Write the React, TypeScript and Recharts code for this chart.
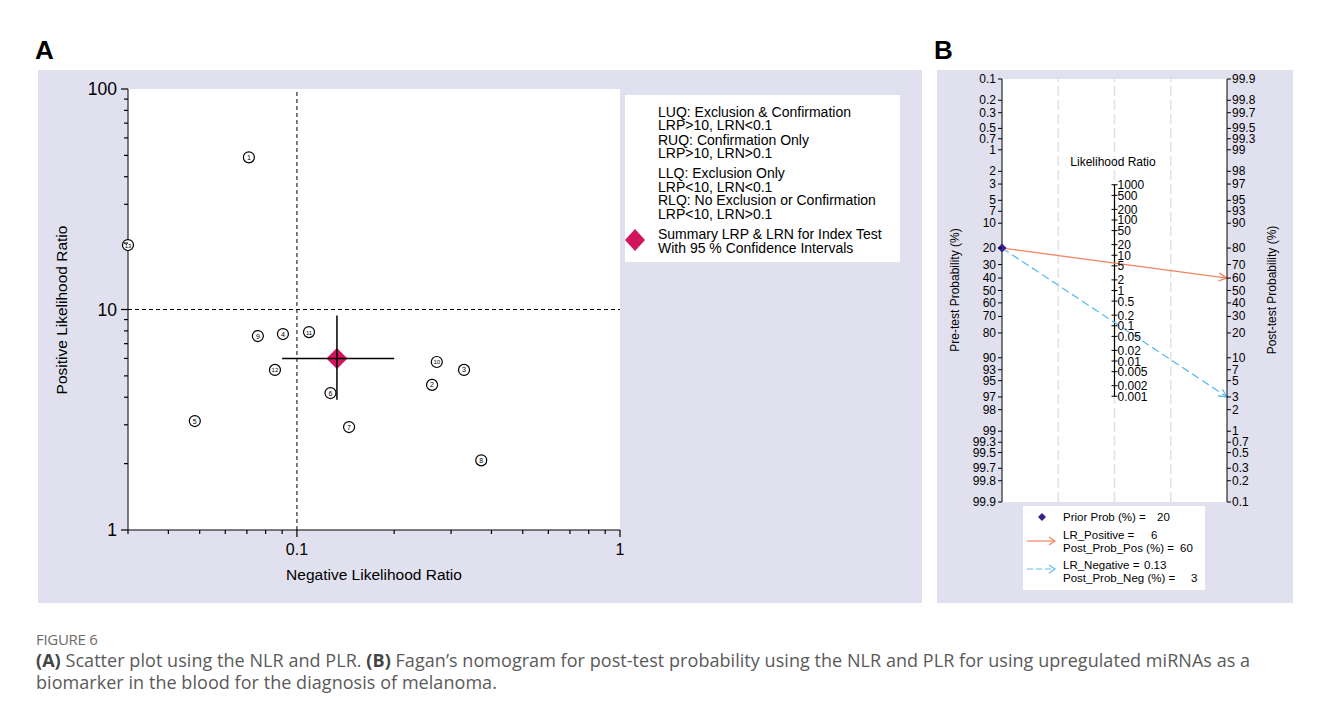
import React from "react";
import { CartesianGrid, ReferenceLine, Scatter, ScatterChart, XAxis, YAxis } from "recharts";

const LAVENDER = "#e0e0ee";
const FONT = '"Liberation Sans", Arial, Helvetica, sans-serif';
const CAPTION_FONT = '"Open Sans", "Noto Sans", sans-serif';

// Panel A: study-level negative / positive likelihood ratios
const studyIds = [1, 2, 3, 4, 5, 6, 7, 8, 9, 10, 11, 12, 13];
const studyNlr = [0.071, 0.262, 0.329, 0.0905, 0.0483, 0.127, 0.145, 0.372, 0.0757, 0.271, 0.109, 0.0855, 0.03];
const studyPlr = [49, 4.55, 5.32, 7.74, 3.12, 4.18, 2.93, 2.07, 7.58, 5.78, 7.9, 5.32, 19.6];

const summaryNlr = 0.133;
const summaryPlr = 6;
const summaryNlrCi = [0.09, 0.2];
const summaryPlrCi = [3.9, 9.4];

const nlrTicks = [0.03, 0.04, 0.05, 0.06, 0.07, 0.08, 0.09, 0.1, 0.2, 0.3, 0.4, 0.5, 0.6, 0.7, 0.8, 0.9, 1];
const nlrTickLabels = [0.1, 1];
const plrTicks = [1, 2, 3, 4, 5, 6, 7, 8, 9, 10, 20, 30, 40, 50, 60, 70, 80, 90, 100];
const plrTickLabels = [1, 10, 100];

const legendA = [
  ["LUQ: Exclusion & Confirmation", "LRP>10, LRN<0.1", "RUQ: Confirmation Only", "LRP>10, LRN>0.1"],
  ["LLQ: Exclusion Only", "LRP<10, LRN<0.1", "RLQ: No Exclusion or Confirmation", "LRP<10, LRN>0.1"],
];

// Panel B: Fagan nomogram
const priorProb = 20;
const lrPositive = 6;
const lrNegative = 0.13;
const postProbPos = 60;
const postProbNeg = 3;
const preTicks = [0.1, 0.2, 0.3, 0.5, 0.7, 1, 2, 3, 5, 7, 10, 20, 30, 40, 50, 60, 70, 80, 90, 93, 95, 97, 98, 99, 99.3, 99.5, 99.7, 99.8, 99.9];
const postTicks = [99.9, 99.8, 99.7, 99.5, 99.3, 99, 98, 97, 95, 93, 90, 80, 70, 60, 50, 40, 30, 20, 10, 7, 5, 3, 2, 1, 0.7, 0.5, 0.3, 0.2, 0.1];
const lrTicks = [1000, 500, 200, 100, 50, 20, 10, 5, 2, 1, 0.5, 0.2, 0.1, 0.05, 0.02, 0.01, 0.005, 0.002, 0.001];

const logit = (p: number) => Math.log(p / (100 - p));
const LIM = -logit(0.1);
const fmt = (v: number) => String(Number(v.toPrecision(3)));

const studies = studyIds.map((id, i) => ({ id, nlr: studyNlr[i], plr: studyPlr[i] }));
const summary = [{ nlr: summaryNlr, plr: summaryPlr }];

const lrAxisPoints = lrTicks.map((lr) => ({ x: 0.5, u: Math.log(lr) / 2, lr }));
const priorPoint = [{ x: 0, u: -logit(priorProb) }];

function XTickA({ x, y, payload }: any) {
  const major = nlrTickLabels.includes(payload.value);
  return (
    <g>
      <line x1={x} x2={x} y1={y} y2={y + (major ? 7 : 4)} stroke="#000" strokeWidth={1.2} />
      {major && (
        <text x={x} y={y + 25} textAnchor="middle" fontSize={16} fontFamily={FONT} fill="#000">
          {payload.value}
        </text>
      )}
    </g>
  );
}

function YTickA({ x, y, payload }: any) {
  const major = plrTickLabels.includes(payload.value);
  return (
    <g>
      <line x1={x - (major ? 7 : 4)} x2={x} y1={y} y2={y} stroke="#000" strokeWidth={1.2} />
      {major && (
        <text x={x - 11} y={y + 6} textAnchor="end" fontSize={17.5} fontFamily={FONT} fill="#000">
          {payload.value}
        </text>
      )}
    </g>
  );
}

function PreTick({ x, y, payload }: any) {
  return (
    <g>
      <line x1={x - 4} x2={x} y1={y} y2={y} stroke="#000" />
      <text x={x - 6} y={y + 4} textAnchor="end" fontSize={12} fontFamily={FONT} fill="#000">
        {fmt(100 / (1 + Math.exp(payload.value)))}
      </text>
    </g>
  );
}

function PostTick({ x, y, payload }: any) {
  return (
    <g>
      <line x1={x} x2={x + 4} y1={y} y2={y} stroke="#000" />
      <text x={x + 5} y={y + 4} textAnchor="start" fontSize={12} fontFamily={FONT} fill="#000">
        {fmt(100 / (1 + Math.exp(-payload.value)))}
      </text>
    </g>
  );
}

const StudyDot = ({ cx, cy, payload }: any) => (
  <g>
    <circle cx={cx} cy={cy} r={5.5} fill="#fff" stroke="#000" strokeWidth={1.2} />
    <text x={cx} y={cy + 2.5} textAnchor="middle" fontSize={payload.id > 9 ? 6 : 7} fontFamily={FONT} fill="#000">
      {payload.id}
    </text>
  </g>
);

const SummaryDiamond = ({ cx, cy }: any) => (
  <polygon points={`${cx},${cy - 10.5} ${cx + 10.5},${cy} ${cx},${cy + 10.5} ${cx - 10.5},${cy}`} fill="#d3135b" />
);

const PriorDiamond = ({ cx, cy }: any) => (
  <polygon points={`${cx},${cy - 4.5} ${cx + 4.5},${cy} ${cx},${cy + 4.5} ${cx - 4.5},${cy}`} fill="#3b1f8f" />
);

const LrTick = ({ cx, cy, payload }: any) => (
  <g>
    <line x1={cx - 3} x2={cx + 3} y1={cy} y2={cy} stroke="#000" />
    <text x={cx + 3} y={cy + 4.5} fontSize={12} fontFamily={FONT} fill="#000">
      {payload.lr}
    </text>
  </g>
);

const arrowShape = (color: string, dash?: string) => (props: any) => {
  const { x1, y1, x2, y2 } = props;
  const a = Math.atan2(y2 - y1, x2 - x1);
  const l = 9;
  const s = 0.45;
  const pts = `${x2 - l * Math.cos(a - s)},${y2 - l * Math.sin(a - s)} ${x2},${y2} ${x2 - l * Math.cos(a + s)},${y2 - l * Math.sin(a + s)}`;
  return (
    <g>
      <line x1={x1} y1={y1} x2={x2} y2={y2} stroke={color} strokeWidth={1.3} strokeDasharray={dash} />
      <polyline points={pts} fill="none" stroke={color} strokeWidth={1.3} />
    </g>
  );
};

const rot = (left: number, top: number, text: string, size: number) => (
  <div
    style={{
      position: "absolute",
      left,
      top,
      transform: "translate(-50%, -50%) rotate(-90deg)",
      whiteSpace: "nowrap",
      fontSize: size,
      fontFamily: FONT,
      color: "#000",
    }}
  >
    {text}
  </div>
);

function PanelA() {
  const lineTops = [17, 30, 45, 58, 78, 92, 105, 119];
  const lines = [...legendA[0], ...legendA[1]];
  return (
    <div style={{ position: "absolute", left: 30, top: 62, width: 884, height: 533, background: LAVENDER }}>
      <ScatterChart width={884} height={533} margin={{ top: 19, right: 302, bottom: 0, left: 0 }}>
        <CartesianGrid fill="#fff" horizontal={false} vertical={false} />
        <XAxis
          type="number"
          dataKey="nlr"
          scale="log"
          domain={[0.03, 1]}
          ticks={nlrTicks}
          interval={0}
          tickSize={0}
          tickMargin={0}
          tickLine={false}
          height={73}
          stroke="#000"
          tick={(p: any) => <XTickA {...p} />}
        />
        <YAxis
          type="number"
          dataKey="plr"
          scale="log"
          domain={[1, 100]}
          ticks={plrTicks}
          interval={0}
          tickSize={0}
          tickMargin={0}
          tickLine={false}
          width={90}
          stroke="#000"
          tick={(p: any) => <YTickA {...p} />}
        />
        <ReferenceLine x={0.1} stroke="#000" strokeDasharray="4 3" />
        <ReferenceLine y={10} stroke="#000" strokeDasharray="4 3" />
        <Scatter data={studies} shape={StudyDot} isAnimationActive={false} />
        <Scatter data={summary} shape={SummaryDiamond} isAnimationActive={false} />
        <ReferenceLine
          segment={[{ x: summaryNlrCi[0], y: summaryPlr }, { x: summaryNlrCi[1], y: summaryPlr }]}
          stroke="#000"
          strokeWidth={1.5}
          zIndex={700}
        />
        <ReferenceLine
          segment={[{ x: summaryNlr, y: summaryPlrCi[0] }, { x: summaryNlr, y: summaryPlrCi[1] }]}
          stroke="#000"
          strokeWidth={1.5}
          zIndex={700}
        />
      </ScatterChart>
      {rot(24, 240, "Positive Likelihood Ratio", 15.5)}
      <div
        style={{
          position: "absolute",
          left: 336,
          top: 505,
          transform: "translate(-50%, -50%)",
          whiteSpace: "nowrap",
          fontSize: 15.5,
          fontFamily: FONT,
        }}
      >
        Negative Likelihood Ratio
      </div>
      <div style={{ position: "absolute", left: 587, top: 25, width: 275, height: 167, background: "#fff" }}>
        {lines.map((t, i) => (
          <div
            key={i}
            style={{ position: "absolute", left: 33, top: lineTops[i] - 7, lineHeight: "14px", fontSize: 14, fontFamily: FONT, whiteSpace: "nowrap" }}
          >
            {t}
          </div>
        ))}
        <svg style={{ position: "absolute", left: 0, top: 134 }} width={20} height={22}>
          <polygon points="10,0 20,11 10,22 0,11" fill="#d3135b" />
        </svg>
        <div style={{ position: "absolute", left: 33, top: 132, lineHeight: "14px", fontSize: 14, fontFamily: FONT, whiteSpace: "nowrap" }}>
          Summary LRP &amp; LRN for Index Test
          <br />
          With 95 % Confidence Intervals
        </div>
      </div>
    </div>
  );
}

function PanelB() {
  const txt = { fontSize: 11.5, fontFamily: FONT, fill: "#000" } as const;
  return (
    <div style={{ position: "absolute", left: 929, top: 62, width: 356, height: 533, background: LAVENDER }}>
      <ScatterChart width={356} height={533} margin={{ top: 9, right: 0, bottom: 101, left: 0 }}>
        <CartesianGrid fill="#fff" horizontal={false} vertical={false} />
        <XAxis type="number" dataKey="x" domain={[0, 1]} hide />
        <YAxis
          type="number"
          dataKey="u"
          domain={[-LIM, LIM]}
          ticks={preTicks.map((p) => -logit(p))}
          interval={0}
          tickSize={0}
          tickMargin={0}
          tickLine={false}
          width={65}
          stroke="#000"
          tick={(p: any) => <PreTick {...p} />}
        />
        <YAxis
          yAxisId="post"
          orientation="right"
          type="number"
          dataKey="u"
          domain={[-LIM, LIM]}
          ticks={postTicks.map((p) => logit(p))}
          interval={0}
          tickSize={0}
          tickMargin={0}
          tickLine={false}
          width={66}
          stroke="#000"
          tick={(p: any) => <PostTick {...p} />}
        />
        {[0.25, 0.5, 0.75].map((g) => (
          <ReferenceLine key={g} x={g} stroke="#e2e2e2" strokeWidth={1.5} strokeDasharray="10 4" />
        ))}
        <ReferenceLine
          segment={[{ x: 0.5, y: Math.log(lrTicks[0]) / 2 }, { x: 0.5, y: Math.log(lrTicks[lrTicks.length - 1]) / 2 }]}
          stroke="#000"
          strokeWidth={1.2}
        />
        <Scatter yAxisId="post" data={lrAxisPoints} shape={LrTick} isAnimationActive={false} />
        <ReferenceLine
          segment={[{ x: 0, y: -logit(priorProb) }, { x: 1, y: logit(postProbPos) }]}
          ifOverflow="visible"
          shape={arrowShape("#f28462")}
        />
        <ReferenceLine
          segment={[{ x: 0, y: -logit(priorProb) }, { x: 1, y: logit(postProbNeg) }]}
          ifOverflow="visible"
          shape={arrowShape("#5cbdf0", "8 4")}
        />
        <Scatter data={priorPoint} shape={PriorDiamond} isAnimationActive={false} />
      </ScatterChart>
      {rot(18, 220, "Pre-test Probability (%)", 12)}
      {rot(335, 220, "Post-test Probability (%)", 12)}
      <div
        style={{
          position: "absolute",
          left: 176,
          top: 92,
          transform: "translate(-50%, -50%)",
          whiteSpace: "nowrap",
          fontSize: 12,
          fontFamily: FONT,
        }}
      >
        Likelihood Ratio
      </div>
      <svg style={{ position: "absolute", left: 86, top: 436, background: "#fff" }} width={182} height={84}>
        <polygon points="19,7 23,11 19,15 15,11" fill="#3b1f8f" />
        <text x={40} y={15} {...txt}>Prior Prob (%) =</text>
        <text x={134} y={15} {...txt}>{priorProb}</text>
        <line x1={4} y1={35} x2={32} y2={35} stroke="#f28462" strokeWidth={1.2} />
        <polyline points="26,31 32,35 26,39" fill="none" stroke="#f28462" strokeWidth={1.2} />
        <text x={40} y={33} {...txt}>LR_Positive =</text>
        <text x={128} y={33} {...txt}>{lrPositive}</text>
        <text x={40} y={46} {...txt}>Post_Prob_Pos (%) =</text>
        <text x={157} y={46} {...txt}>{postProbPos}</text>
        <line x1={4} y1={63} x2={32} y2={63} stroke="#5cbdf0" strokeWidth={1.2} strokeDasharray="6 3" />
        <polyline points="26,59 32,63 26,67" fill="none" stroke="#5cbdf0" strokeWidth={1.2} />
        <text x={40} y={63} {...txt}>LR_Negative =</text>
        <text x={121} y={63} {...txt}>{lrNegative}</text>
        <text x={40} y={76} {...txt}>Post_Prob_Neg (%) =</text>
        <text x={168} y={76} {...txt}>{postProbNeg}</text>
      </svg>
    </div>
  );
}

export default function App() {
  return (
    <div style={{ position: "relative", width: 1312, height: 697, fontFamily: FONT }}>
      <div
        style={{
          position: "absolute",
          left: -4,
          top: -1,
          width: 1320,
          height: 700,
          border: "1px solid #d2d2d2",
          borderRadius: 3,
          boxSizing: "border-box",
        }}
      />
      <div style={{ position: "absolute", left: 27, top: 29, fontSize: 26, fontWeight: "bold", lineHeight: "26px" }}>A</div>
      <div style={{ position: "absolute", left: 926, top: 29, fontSize: 26, fontWeight: "bold", lineHeight: "26px" }}>B</div>
      <PanelA />
      <PanelB />
      <div style={{ position: "absolute", left: 28, top: 622, fontSize: 15, color: "#6b6b6b", fontFamily: CAPTION_FONT, lineHeight: "18px", letterSpacing: -0.3 }}>
        FIGURE 6
      </div>
      <div style={{ position: "absolute", left: 28, top: 641, fontSize: 18, color: "#5a5a5a", fontFamily: CAPTION_FONT, lineHeight: "22px", whiteSpace: "nowrap", letterSpacing: 0.05 }}>
        <b style={{ color: "#444" }}>(A)</b> Scatter plot using the NLR and PLR. <b style={{ color: "#444" }}>(B)</b> Fagan’s nomogram for post-test probability using the NLR and PLR for using upregulated miRNAs as a
        <br />
        biomarker in the blood for the diagnosis of melanoma.
      </div>
    </div>
  );
}
